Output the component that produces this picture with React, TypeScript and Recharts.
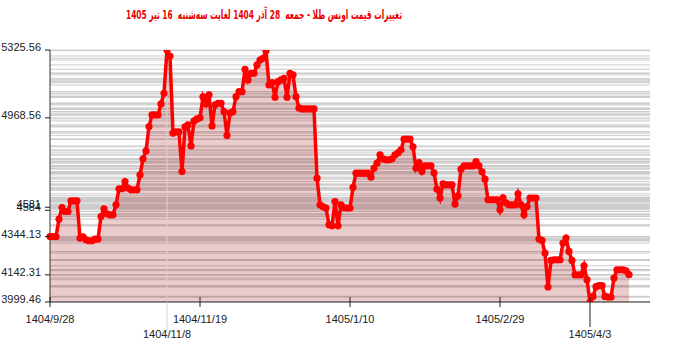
import { ComposedChart, Area, Line, XAxis, YAxis, CartesianGrid, ReferenceLine } from 'recharts';

// daily ounce price, one value per step on the x axis
const prices = [
  4344.13, 4344.13, 4344.13, 4435.7, 4496.7, 4475.7, 4475.7, 4531.9, 4531.9, 4531.9,
  4335.9, 4342.7, 4327.0, 4321.7, 4321.7, 4330.6, 4330.6, 4449.4, 4489.9, 4463.6,
  4458.4, 4458.4, 4510.9, 4595.0, 4595.0, 4633.4, 4598.7, 4589.7, 4589.7, 4589.7,
  4668.6, 4752.7, 4794.7, 4922.4, 4983.9, 4983.9, 4983.9, 5041.7, 5098.0, 5325.56,
  5294.0, 4887.8, 4894.6, 4894.6, 4685.9, 4920.9, 4931.4, 4821.0, 4952.4, 4962.9,
  4968.56, 5078.5, 5041.7, 5089.0, 4926.1, 5036.5, 5045.4, 5045.4, 5001.3, 4875.2,
  4992.9, 5001.3, 5080.1, 5106.4, 5106.4, 5224.2, 5167.9, 5203.1, 5203.1, 5246.8,
  5273.0, 5282.0, 5321.9, 5141.6, 5153.7, 5077.0, 5159.0, 5167.9, 5176.8, 5077.0,
  5203.1, 5194.2, 5080.1, 5020.8, 5015.5, 5015.5, 5015.5, 5015.5, 5015.5, 4651.3,
  4510.9, 4500.4, 4493.6, 4405.8, 4400.5, 4528.3, 4400.5, 4510.9, 4495.2, 4493.6,
  4493.6, 4602.9, 4677.5, 4677.5, 4677.5, 4677.5, 4677.5, 4656.5, 4703.8, 4730.1,
  4773.7, 4752.7, 4747.4, 4747.4, 4752.7, 4773.7, 4784.2, 4800.0, 4856.2, 4856.2,
  4856.2, 4815.8, 4703.8, 4733.2, 4685.9, 4715.9, 4715.9, 4715.9, 4679.1, 4593.4,
  4546.1, 4621.3, 4616.0, 4616.0, 4616.0, 4514.6, 4558.2, 4698.6, 4715.9, 4715.9,
  4715.9, 4715.9, 4738.5, 4715.9, 4684.4, 4646.0, 4537.2, 4537.2, 4537.2, 4537.2,
  4484.6, 4547.7, 4521.4, 4510.9, 4510.9, 4510.9, 4568.7, 4510.9, 4458.4, 4502.0,
  4546.1, 4546.1, 4546.1, 4330.6, 4323.3, 4257.1, 4078.4, 4218.2, 4221.8, 4221.8,
  4221.8, 4309.6, 4335.9, 4265.5, 4218.2, 4142.31, 4142.31, 4142.31, 4190.3, 4116.7,
  3999.46, 4028.9, 4079.9, 4085.2, 4085.2, 4028.9, 4025.8, 4025.8, 4125.6, 4169.3,
  4169.3, 4169.3, 4164.0, 4143.0,
];

const xTicks = [0, 39, 50, 100, 150, 180];
const xTickLabels = ['1404/9/28', '1404/11/8', '1404/11/19', '1405/1/10', '1405/2/29', '1405/4/3'];

const yTicks = [3999.46, 4142.31, 4344.13, 4482, 4498, 4968.56, 5325.56];
const yTickLabels = ['3999.46', '4142.31', '4344.13', '4584', '4581', '4968.56', '5325.56'];

const title = 'تغییرات قیمت اونس طلا - جمعه  28 آذر 1404 لغایت سه‌شنبه  16 تیر 1405';

const data = prices.map((v, i) => ({ i, v }));

const font = '"Liberation Sans", Arial, sans-serif';

function XTick({ x, y, payload }: any) {
  const k = xTicks.indexOf(payload.value);
  const low = k === 1 || k === 5;
  return (
    <g>
      {k === 1 ? (
        <line x1={x} x2={x} y1={y} y2={y + 28} stroke="#d4d4d4" />
      ) : k === 5 ? (
        <line x1={x} x2={x} y1={y - 5} y2={y + 25} stroke="#222" />
      ) : (
        <line x1={x} x2={x} y1={y - 5} y2={y + 5} stroke="#222" />
      )}
      <text x={x} y={y + (low ? 36 : 21)} textAnchor="middle" fontSize={11} fill="#222" fontFamily={font}>
        {xTickLabels[k]}
      </text>
    </g>
  );
}

function YTick({ x, y, payload }: any) {
  const k = yTicks.indexOf(payload.value);
  return (
    <g>
      <line x1={x - 5} x2={x} y1={y} y2={y} stroke="#222" />
      <text x={x - 9} y={y + 1} textAnchor="end" fontSize={11} fill="#222" fontFamily={font}>
        {yTickLabels[k]}
      </text>
    </g>
  );
}

export default function App() {
  return (
    <div style={{ position: 'absolute', left: 0, top: 0, width: 700, height: 352, background: '#fff' }}>
      <svg width={700} height={30} style={{ position: 'absolute', left: 0, top: 0 }}>
        <text
          x={264} y={19} textAnchor="middle" direction="rtl" fill="#ee0000" fontWeight="bold"
          fontSize={13} fontFamily='Tahoma, "DejaVu Sans", sans-serif'
          textLength={276} lengthAdjust="spacingAndGlyphs" style={{ whiteSpace: 'pre' }}
        >
          {title}
        </text>
      </svg>
      <ComposedChart width={700} height={352} data={data} margin={{ top: 50, right: 50, bottom: 0, left: 0 }}>
        <CartesianGrid vertical={false} horizontalValues={prices} stroke="#cccccc" />
        <XAxis
          dataKey="i" type="number" domain={[0, 200]} ticks={xTicks} interval={0}
          height={50} tickLine={false} tickSize={0} tickMargin={0} axisLine={{ stroke: '#333' }}
          tick={<XTick />}
        />
        <YAxis
          type="number" domain={[3999.46, 5325.56]} allowDataOverflow ticks={yTicks} interval={0}
          width={50} tickLine={false} tickSize={0} tickMargin={0} axisLine={{ stroke: '#333' }}
          tick={<YTick />}
        />
        <ReferenceLine x={39} stroke="#d4d4d4" />
        <Area
          type="linear" dataKey="v" stroke="none"
          fill="#990000" fillOpacity={0.2}
          dot={false} activeDot={false}
          isAnimationActive={false}
        />
        <Line
          type="linear" dataKey="v" stroke="#ff0000" strokeWidth={3.5}
          dot={{ r: 3.6, fill: '#ff0000', stroke: 'none' }} activeDot={false}
          isAnimationActive={false}
        />
      </ComposedChart>
    </div>
  );
}
